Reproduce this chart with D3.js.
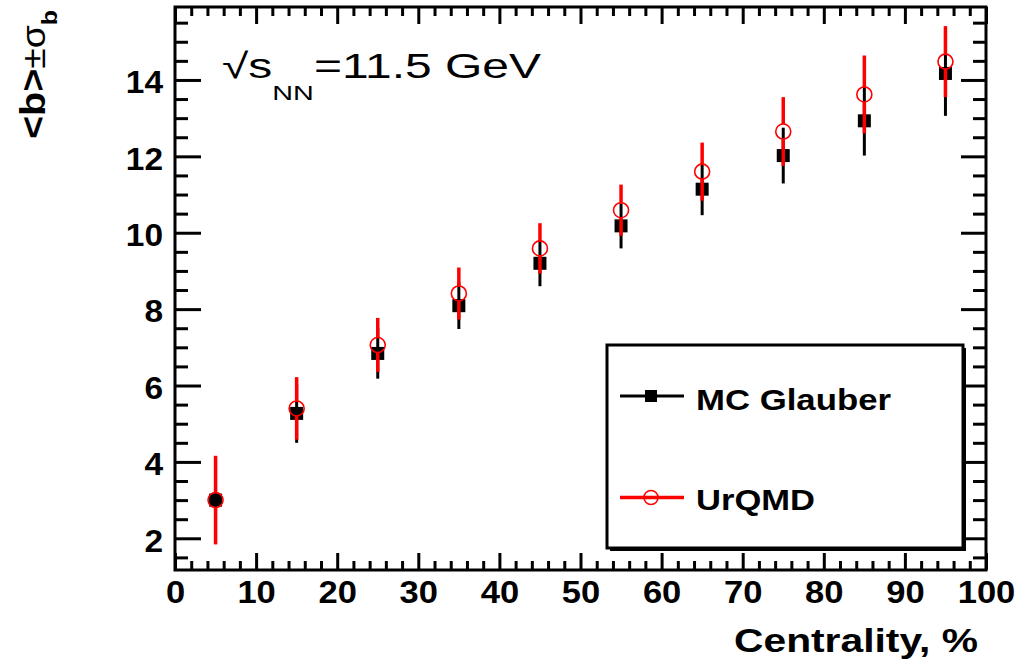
<!DOCTYPE html>
<html>
<head>
<meta charset="utf-8">
<script src="https://cdn.jsdelivr.net/npm/d3@7"></script>
<style>
  html, body { margin: 0; padding: 0; background: #fff; }
  svg { display: block; }
  text { font-family: "Liberation Sans", Arial, Helvetica, sans-serif; }
</style>
</head>
<body>
<svg id="chart" width="1035" height="663"></svg>
<script>
// ---- data ----
const centrality   = [5, 15, 25, 35, 45, 55, 65, 75, 85, 95];
const glauberMean  = [3.00, 5.27, 6.84, 8.09, 9.20, 10.18, 11.14, 12.02, 12.93, 14.17];
const glauberSigma = [1.10, 0.77, 0.66, 0.61, 0.60, 0.59, 0.68, 0.73, 0.91, 1.11];
const urqmdMean    = [3.00, 5.40, 7.06, 8.41, 9.59, 10.59, 11.60, 12.65, 13.62, 14.48];
const urqmdSigma   = [1.16, 0.82, 0.71, 0.68, 0.66, 0.67, 0.76, 0.90, 1.02, 0.93];
const xTicks = [0, 10, 20, 30, 40, 50, 60, 70, 80, 90, 100];
const yTicks = [2, 4, 6, 8, 10, 12, 14];
const legendLabels = ["MC Glauber", "UrQMD"];

// ---- layout ----
const svg = d3.select("#chart");
const L = 175, R = 986, T = 7, B = 570;
const x = d3.scaleLinear().domain([0, 100]).range([L, R]);
const y = d3.scaleLinear().domain([1.17, 15.91]).range([B, T]);

const xMinor = d3.range(0, 100.001, 2).filter(v => v % 10 !== 0);
const yMinor = d3.range(1.5, 15.9, 0.5).filter(v => v % 2 !== 0);

function styleAxis(g) {
  g.select(".domain").remove();
  g.selectAll(".tick line").attr("stroke", "#000").attr("stroke-width", 3);
}

// bottom major
svg.append("g").attr("transform", `translate(0,${B})`)
  .call(d3.axisBottom(x).tickValues(xTicks).tickSize(-17).tickPadding(10).tickFormat(d3.format("d")))
  .call(styleAxis)
  .call(g => g.selectAll("text")
     .attr("font-size", 32).attr("font-weight", "bold").attr("fill", "#000")
     .attr("font-family", "Liberation Sans, Arial, sans-serif")
     .attr("textLength", function(){ return this.textContent.length * 19.2; })
     .attr("lengthAdjust", "spacingAndGlyphs"));
svg.append("g").attr("transform", `translate(0,${B})`)
  .call(d3.axisBottom(x).tickValues(xMinor).tickSize(-9).tickFormat(""))
  .call(styleAxis);
// top
svg.append("g").attr("transform", `translate(0,${T})`)
  .call(d3.axisTop(x).tickValues(xTicks).tickSize(-17).tickFormat(""))
  .call(styleAxis);
svg.append("g").attr("transform", `translate(0,${T})`)
  .call(d3.axisTop(x).tickValues(xMinor).tickSize(-9).tickFormat(""))
  .call(styleAxis);
// left
svg.append("g").attr("transform", `translate(${L},0)`)
  .call(d3.axisLeft(y).tickValues(yTicks).tickSize(-26).tickPadding(12).tickFormat(d3.format("d")))
  .call(styleAxis)
  .call(g => g.selectAll("text")
     .attr("font-size", 32).attr("font-weight", "bold").attr("fill", "#000").attr("dy", "0.4em")
     .attr("font-family", "Liberation Sans, Arial, sans-serif")
     .attr("textLength", function(){ return this.textContent.length * 18.6; })
     .attr("lengthAdjust", "spacingAndGlyphs"));
svg.append("g").attr("transform", `translate(${L},0)`)
  .call(d3.axisLeft(y).tickValues(yMinor).tickSize(-13).tickFormat(""))
  .call(styleAxis);
// right
svg.append("g").attr("transform", `translate(${R},0)`)
  .call(d3.axisRight(y).tickValues(yTicks).tickSize(-25).tickFormat(""))
  .call(styleAxis);
svg.append("g").attr("transform", `translate(${R},0)`)
  .call(d3.axisRight(y).tickValues(yMinor).tickSize(-13).tickFormat(""))
  .call(styleAxis);

// frame
svg.append("rect").attr("x", L).attr("y", T).attr("width", R - L).attr("height", B - T)
  .attr("fill", "none").attr("stroke", "#000").attr("stroke-width", 3);

// ---- data marks ----
const glauber = centrality.map((c, i) => ({c, m: glauberMean[i], s: glauberSigma[i]}));
const urqmd = centrality.map((c, i) => ({c, m: urqmdMean[i], s: urqmdSigma[i]}));
const circR = 7.5;

// black error bars
svg.append("g").selectAll("line").data(glauber).join("line")
  .attr("x1", d => x(d.c)).attr("x2", d => x(d.c))
  .attr("y1", d => y(d.m + d.s)).attr("y2", d => y(d.m - d.s))
  .attr("stroke", "#000").attr("stroke-width", 3);
// black squares
const sq = 13;
svg.append("g").selectAll("rect").data(glauber).join("rect")
  .attr("x", d => x(d.c) - sq / 2).attr("y", d => y(d.m) - sq / 2)
  .attr("width", sq).attr("height", sq).attr("fill", "#000");
// red error bars (gap at marker)
const redBars = svg.append("g");
redBars.selectAll("line.up").data(urqmd).join("line").attr("class", "up")
  .attr("x1", d => x(d.c)).attr("x2", d => x(d.c))
  .attr("y1", d => y(d.m + d.s)).attr("y2", d => y(d.m) - circR)
  .attr("stroke", "#ff0000").attr("stroke-width", 3.5);
redBars.selectAll("line.dn").data(urqmd).join("line").attr("class", "dn")
  .attr("x1", d => x(d.c)).attr("x2", d => x(d.c))
  .attr("y1", d => y(d.m) + circR).attr("y2", d => y(d.m - d.s))
  .attr("stroke", "#ff0000").attr("stroke-width", 3.5);
// red circles
svg.append("g").selectAll("circle").data(urqmd).join("circle")
  .attr("cx", d => x(d.c)).attr("cy", d => y(d.m)).attr("r", circR)
  .attr("fill", "none").attr("stroke", "#ff0000").attr("stroke-width", 1.6);

// ---- legend ----
const lg = {x: 607, y: 345, w: 356, h: 203};
svg.append("rect").attr("x", lg.x + 3).attr("y", lg.y + 3).attr("width", lg.w).attr("height", lg.h).attr("fill", "#000");
svg.append("rect").attr("x", lg.x).attr("y", lg.y).attr("width", lg.w).attr("height", lg.h)
  .attr("fill", "#fff").attr("stroke", "#000").attr("stroke-width", 3);

svg.append("line").attr("x1", 620).attr("x2", 684).attr("y1", 396).attr("y2", 396)
  .attr("stroke", "#000").attr("stroke-width", 3);
svg.append("rect").attr("x", 651 - 6).attr("y", 396 - 6).attr("width", 12).attr("height", 12).attr("fill", "#000");
svg.append("line").attr("x1", 620).attr("x2", 684).attr("y1", 497.5).attr("y2", 497.5)
  .attr("stroke", "#ff0000").attr("stroke-width", 3.5);
svg.append("circle").attr("cx", 651).attr("cy", 497.5).attr("r", 7)
  .attr("fill", "none").attr("stroke", "#ff0000").attr("stroke-width", 1.6);

svg.append("text").attr("x", 696).attr("y", 410).attr("font-size", 30).attr("font-weight", "bold")
  .attr("textLength", 195).attr("lengthAdjust", "spacingAndGlyphs").text(legendLabels[0]);
svg.append("text").attr("x", 696).attr("y", 509.5).attr("font-size", 30).attr("font-weight", "bold")
  .attr("textLength", 119).attr("lengthAdjust", "spacingAndGlyphs").text(legendLabels[1]);

// ---- axis titles ----
svg.append("text").attr("x", 734).attr("y", 651.5).attr("font-size", 34).attr("font-weight", "bold")
  .attr("textLength", 244).attr("lengthAdjust", "spacingAndGlyphs").text("Centrality, %");

const yt = svg.append("text").attr("transform", "translate(45,139) rotate(-90)")
  .attr("textLength", 129).attr("lengthAdjust", "spacingAndGlyphs");
yt.append("tspan").attr("font-size", 35).attr("font-weight", "bold").text("<b>");
yt.append("tspan").attr("font-size", 33).text("±σ");
yt.append("tspan").attr("font-size", 22).attr("font-weight", "bold").attr("dy", 12).text("b");

// ---- annotation ----
const ann = svg.append("text").attr("x", 222).attr("y", 78.3)
  .attr("textLength", 319).attr("lengthAdjust", "spacingAndGlyphs");
ann.append("tspan").attr("font-size", 35).text("√s");
ann.append("tspan").attr("font-size", 21).attr("dy", 21.5).text("NN");
ann.append("tspan").attr("font-size", 35).attr("dy", -21.5).text("=11.5 GeV");
</script>
</body>
</html>
